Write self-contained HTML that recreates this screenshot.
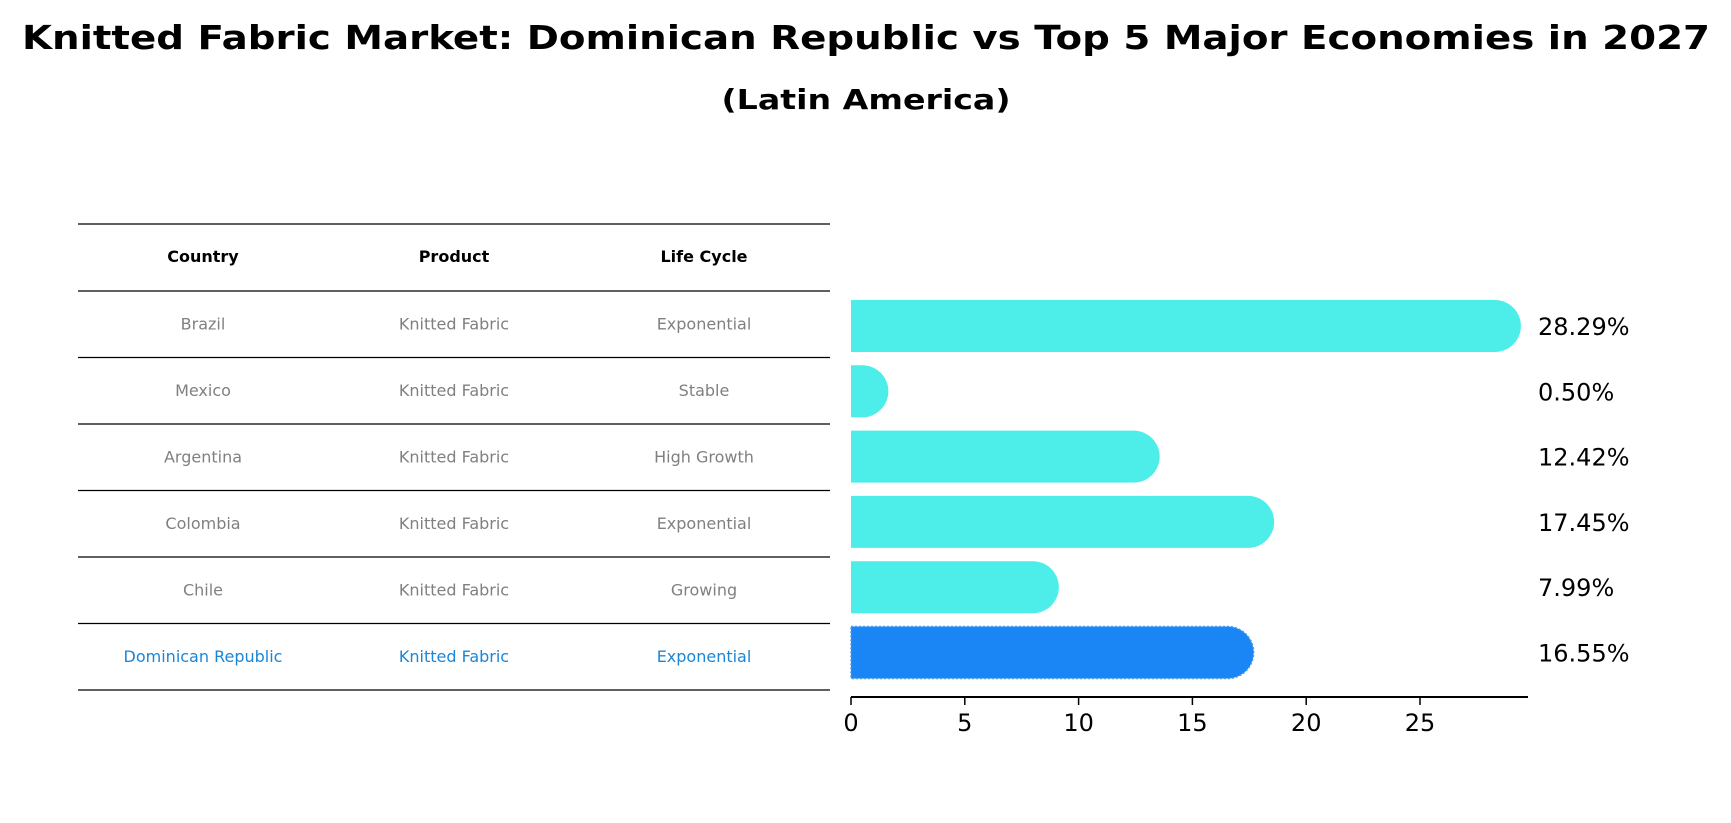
<!DOCTYPE html>
<html><head><meta charset="utf-8"><style>
html,body{margin:0;padding:0;background:#fff;}
svg{display:block;font-family:"DejaVu Sans","Liberation Sans",sans-serif;}
</style></head><body>
<svg id="chart" width="1731" height="823" viewBox="0 0 1731 823">
<text x="866" y="49" text-anchor="middle" font-size="33" font-weight="bold" textLength="1688" lengthAdjust="spacingAndGlyphs">Knitted Fabric Market: Dominican Republic vs Top 5 Major Economies in 2027</text>
<text x="866" y="109" text-anchor="middle" font-size="28" font-weight="bold" textLength="289" lengthAdjust="spacingAndGlyphs">(Latin America)</text>
<g id="table"></g>
<g id="bars"></g>
<g id="xaxis"></g>
</svg>
<script>
const countries = ["Brazil","Mexico","Argentina","Colombia","Chile","Dominican Republic"];
const products = ["Knitted Fabric","Knitted Fabric","Knitted Fabric","Knitted Fabric","Knitted Fabric","Knitted Fabric"];
const lifeCycles = ["Exponential","Stable","High Growth","Exponential","Growing","Exponential"];
const values = [28.29,0.50,12.42,17.45,7.99,16.55];
const valueLabels = ["28.29%","0.50%","12.42%","17.45%","7.99%","16.55%"];
const xTicks = [0,5,10,15,20,25];
const headers = ["Country","Product","Life Cycle"];

const NS="http://www.w3.org/2000/svg";
function mk(tag, attrs, parent){const e=document.createElementNS(NS,tag);for(const k in attrs)e.setAttribute(k,attrs[k]);parent.appendChild(e);return e;}
const X0=851, UNIT=22.76;
const xScale=v=>X0+v*UNIT;
const ROW0=326, ROWH=65.3;
const yScale=i=>ROW0+i*ROWH;
const BH=52;

const table=document.getElementById('table');
const colX=[203,454,704];
const lineYs=[224,291];
for(let i=0;i<countries.length;i++) lineYs.push(291+(i+1)*66.5);
lineYs.forEach((y,i)=>{
  const l=mk('line',{x1:78,x2:830,y1:y,y2:y,stroke:'#000','stroke-width':1.2},table);
  
  
});
headers.forEach((h,j)=>{
  const t=mk('text',{x:colX[j],y:262,'text-anchor':'middle','font-size':16,'font-weight':'bold'},table);
  t.textContent=h;
  
  
});
countries.forEach((c,i)=>{
  const y=291+i*66.5+33+5.5;
  const hl=i===countries.length-1;
  const fill=hl?'#1a86d8':'#808080';
  [c,products[i],lifeCycles[i]].forEach((s,j)=>{
    const t=mk('text',{x:colX[j],y:y,'text-anchor':'middle','font-size':16,fill:fill},table);
    t.textContent=s;
    
    
  });
});

const bars=document.getElementById('bars');
values.forEach((v,i)=>{
  const hl=i===values.length-1;
  const col=hl?'#1a86f5':'#4deeea';
  const cy=yScale(i), x1=xScale(v), r=BH/2;
  const p=mk('path',{d:`M${X0},${cy-r} L${x1},${cy-r} A${r},${r} 0 0 1 ${x1},${cy+r} L${X0},${cy+r} Z`,fill:col},bars);
  if(hl){p.setAttribute('stroke','#4a9ae8');p.setAttribute('stroke-dasharray','2,2');p.setAttribute('stroke-width','1.5');}
  
  
  const t=mk('text',{x:1538,y:cy+9,'font-size':24},bars);
  t.textContent=valueLabels[i];
  
  
});

const ax=document.getElementById('xaxis');
const AY=697;
const al=mk('line',{x1:X0,x2:1528,y1:AY,y2:AY,stroke:'#000','stroke-width':2},ax);


xTicks.forEach(v=>{
  const tk=mk('line',{x1:xScale(v),x2:xScale(v),y1:AY,y2:AY+8,stroke:'#000','stroke-width':1.5},ax);
  
  
  const t=mk('text',{x:xScale(v),y:AY+34,'text-anchor':'middle','font-size':24},ax);
  t.textContent=v;
  
  
});
</script>
</body></html>
